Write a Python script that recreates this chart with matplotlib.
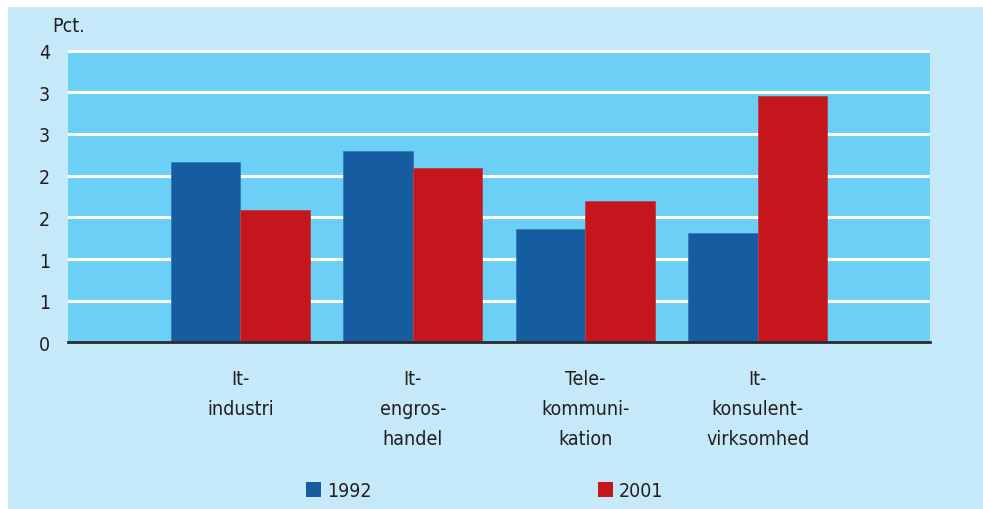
import matplotlib.pyplot as plt
import matplotlib.patches as mpatches
import numpy as np

plt.rcParams['font.family'] = ['Liberation Sans Narrow', 'DejaVu Sans Condensed', 'DejaVu Sans']
plt.rcParams['font.stretch'] = 'condensed'

# data
categories = ['It-\nindustri', 'It-\nengros-\nhandel', 'Tele-\nkommuni-\nkation', 'It-\nkonsulent-\nvirksomhed']
values_1992 = [2.16, 2.29, 1.36, 1.315]
values_2001 = [1.59, 2.09, 1.69, 2.95]
series_names = ['1992', '2001']
ytick_values = [0, 0.5, 1.0, 1.5, 2.0, 2.5, 3.0, 3.5]
ytick_labels = ['0', '1', '1', '2', '2', '3', '3', '4']

# colours
outer_bg = '#c6e9f9'
plot_bg = '#6ccff5'
blue = '#155ca0'
red = '#c4161c'
text_col = '#231f20'

fs = 14

fig = plt.figure(figsize=(9.83, 5.10), dpi=100)
fig.patch.set_facecolor('white')
# light blue panel, leaving a thin white margin on the left and top
fig.patches.append(mpatches.Rectangle((8 / 983, 0), 1, 1 - 8 / 510, transform=fig.transFigure,
                                      facecolor=outer_bg, edgecolor='none', zorder=-10))

ax = fig.add_axes([68 / 983, 1 - 343.4 / 510, (930 - 68) / 983, (343.4 - 51.0) / 510])
ax.set_facecolor(plot_bg)

x = np.arange(len(categories))
w = 0.404
ax.bar(x - w / 2, values_1992, w, color=blue, edgecolor='#3a78b5', linewidth=0.6, zorder=3)
ax.bar(x + w / 2, values_2001, w, color=red, edgecolor='#b8404a', linewidth=0.6, zorder=3)

ax.set_xlim(-1, 4)
ax.set_ylim(0, 3.506)
ax.set_yticks(ytick_values)
ax.set_yticklabels(ytick_labels)
for yv in ytick_values[1:]:
    ax.axhline(yv, color='white', linewidth=2.2, zorder=1)

ax.set_xticks(x)
ax.set_xticklabels(categories, va='top', ha='center', multialignment='center')
for lbl in ax.get_xticklabels():
    lbl.set_linespacing(1.73)

for s in ['top', 'right', 'left']:
    ax.spines[s].set_visible(False)
ax.spines['bottom'].set_color('#2b2b2b')
ax.spines['bottom'].set_linewidth(2)
ax.spines['bottom'].set_zorder(5)

ax.tick_params(axis='both', length=0, labelsize=fs, colors=text_col)
ax.tick_params(axis='y', pad=13)
ax.tick_params(axis='x', pad=19)

fig.text(52 / 983, 1 - 27 / 510, 'Pct.', fontsize=fs, color=text_col, ha='left', va='center')

handles = [mpatches.Patch(facecolor=blue, edgecolor='none'),
           mpatches.Patch(facecolor=red, edgecolor='none')]
fig.legend(handles, series_names, loc='center', bbox_to_anchor=(485 / 983, 1 - 492 / 510),
           ncol=2, frameon=False, fontsize=fs, handlelength=0.77, handleheight=0.77,
           handletextpad=0.3, columnspacing=11.65, labelcolor=text_col)

fig.savefig('out.png', dpi=100, facecolor=fig.get_facecolor())
